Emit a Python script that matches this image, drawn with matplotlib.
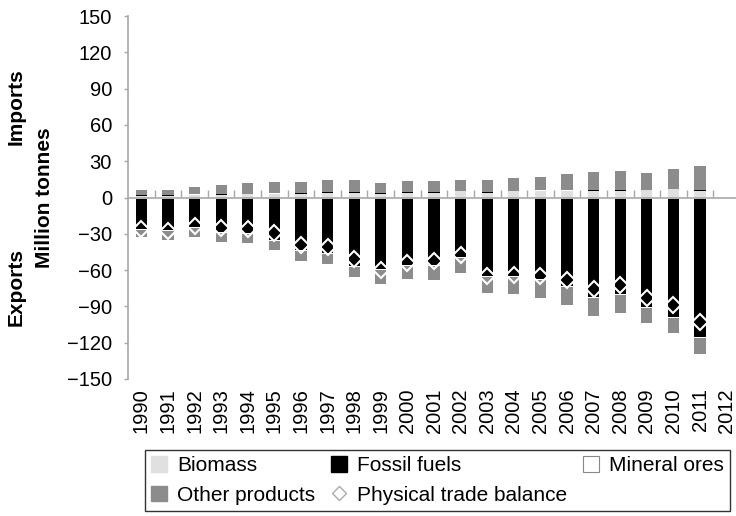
import matplotlib
matplotlib.use("Agg")
import matplotlib.pyplot as plt
from matplotlib.lines import Line2D
from matplotlib.patches import Patch
import numpy as np

plt.rcParams['font.family'] = ['Liberation Sans', 'DejaVu Sans']

years = [str(y) for y in range(1990, 2013)]

# imports (positive), 1990-2011
biomass_imp = [1.5, 1.5, 2, 2, 2.5, 2.5, 3, 4, 4, 3, 4, 4, 5, 4, 5, 5, 5, 5.5, 5.5, 6, 6.9, 5.5]
fossil_imp = [0.2, 0.2, 0.2, 0.8, 0.2, 0.8, 0.8, 0.2, 0.2, 0.8, 0.2, 0.6, 0.2, 0.6, 0.2, 0.6, 0.6, 0.6, 0.6, 0.2, 0.2, 0.6]
ores_imp = [0.3] * 22
other_imp = [4.3, 4.3, 5.8, 7.6, 9.1, 9.3, 8.8, 10.1, 10.1, 8.0, 9.3, 8.9, 9.1, 9.7, 10.7, 11.1, 13.6, 14.8, 15.6, 13.9, 16.3, 19.8]

# exports (negative)
biomass_exp = [-1.5] * 22
fossil_exp = [-24.5, -25.2, -23, -27.1, -28, -34, -41.7, -44.5, -54.9, -57.7, -54.1, -54.1, -47.8, -63.7, -63.2,
              -65.9, -72, -80.8, -78.1, -89.1, -97.6, -114.1]
ores_exp = [-0.7] * 22
other_exp = [-6.1, -7.6, -7.8, -7.3, -7.0, -7.0, -8.4, -8.1, -8.4, -11.4, -10.9, -11.7, -12.2, -12.8, -14.2,
             -14.8, -14.4, -14.7, -15.0, -12.2, -12.5, -13.4]

balance = [-26, -27.5, -23.6, -25.6, -25.9, -29.5, -39, -40.5, -51, -60, -54, -52.5, -47.4, -64.5, -64.4,
           -65, -68.5, -75.5, -72.7, -83.1, -88.6, -103.3]

c_bio = '#e0e0e0'
c_fos = '#000000'
c_ore = '#ffffff'
c_oth = '#8c8c8c'
axcol = '#a8a8a8'

fig = plt.figure(figsize=(7.36, 5.16), dpi=100)
ax = fig.add_axes([128 / 736, 137 / 516, 612 / 736, 363 / 516])

x = np.arange(len(biomass_imp))
w = 0.42

bottom = np.zeros(len(x))
for vals, col in [(biomass_imp, c_bio), (fossil_imp, c_fos), (ores_imp, c_ore), (other_imp, c_oth)]:
    ax.bar(x, vals, w, bottom=bottom, color=col, linewidth=0, zorder=2)
    bottom = bottom + np.array(vals)

bottom = np.zeros(len(x))
for vals, col in [(biomass_exp, c_bio), (fossil_exp, c_fos), (ores_exp, c_ore), (other_exp, c_oth)]:
    ax.bar(x, vals, w, bottom=bottom, color=col, linewidth=0, zorder=2)
    bottom = bottom + np.array(vals)

ax.plot(x, balance, linestyle='none', marker='D', markersize=8, markerfacecolor='none',
        markeredgecolor='white', markeredgewidth=1.5, zorder=4)

ax.axhline(0, color=axcol, linewidth=1.2, zorder=3)

ax.set_xlim(-0.5, len(years) - 0.5)
ax.set_ylim(-150, 150)
ax.set_yticks(range(-150, 151, 30))
ax.set_xticks(range(len(years)))
ax.set_xticklabels(years, rotation=90)
ax.tick_params(axis='x', length=0, pad=6.5, labelsize=14.5)
ax.tick_params(axis='y', length=3, width=1, color=axcol, pad=8.5, labelsize=14.5, direction='out')

for s in ['top', 'right', 'bottom']:
    ax.spines[s].set_visible(False)
ax.spines['left'].set_color(axcol)
ax.spines['left'].set_linewidth(1.2)

# tick marks on the zero line, between categories
sec = ax.secondary_xaxis(0.5)
sec.set_xticks(np.arange(len(years)) + 0.5)
sec.tick_params(axis='x', length=5, width=1, color=axcol, labelbottom=False, labeltop=False, direction='out')
sec.spines['bottom'].set_visible(False)
sec.spines['top'].set_visible(False)

fig.text(16 / 736, 1 - 107 / 516, 'Imports', rotation=90, fontsize=15, fontweight='bold', ha='center', va='center')
fig.text(44 / 736, 1 - 198 / 516, 'Million tonnes', rotation=90, fontsize=15, fontweight='bold', ha='center', va='center')
fig.text(16 / 736, 1 - 287 / 516, 'Exports', rotation=90, fontsize=15, fontweight='bold', ha='center', va='center')

h_bio = Patch(facecolor=c_bio, edgecolor=c_bio)
h_fos = Patch(facecolor=c_fos, edgecolor=c_fos)
h_ore = Patch(facecolor='white', edgecolor='#888888', linewidth=0.8)
h_oth = Patch(facecolor=c_oth, edgecolor=c_oth)
h_bal = Line2D([], [], linestyle='none', marker='D', markersize=7.5, markerfacecolor='white',
               markeredgecolor='#aaaaaa', markeredgewidth=1)
leg = fig.legend([h_bio, h_oth, h_fos, h_bal, h_ore],
                 ['Biomass', 'Other products', 'Fossil fuels', 'Physical trade balance', 'Mineral ores'],
                 ncol=3, loc='upper left', bbox_to_anchor=(145 / 736, 1 - 450 / 516),
                 fontsize=15, frameon=True, fancybox=False, handlelength=0.77, handleheight=0.77,
                 handletextpad=0.48, columnspacing=0.75, labelspacing=0.5, borderpad=0.3, borderaxespad=0)
leg.get_frame().set_edgecolor('black')
leg.get_frame().set_linewidth(1)

fig.savefig('out.png', dpi=100)
